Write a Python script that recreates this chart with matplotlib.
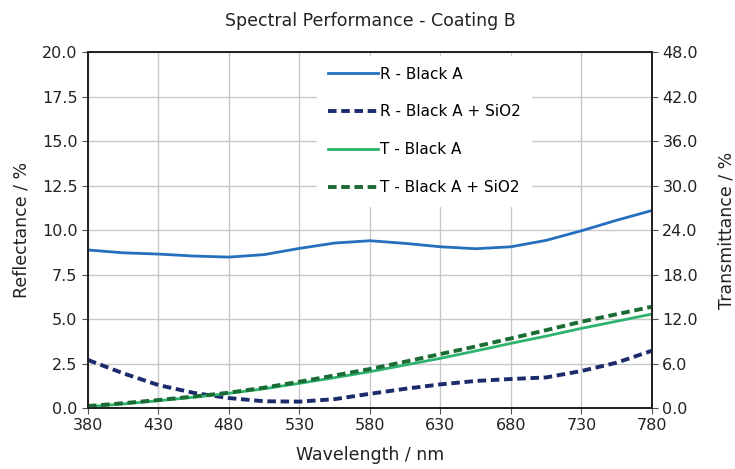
import matplotlib
matplotlib.use("Agg")
import matplotlib.pyplot as plt

# wavelength grid (nm)
wavelength = [380, 405, 430, 455, 480, 505, 530, 555, 580, 605, 630, 655, 680, 705, 730, 755, 780]

# reflectance (%), left axis
r_black_a = [8.88, 8.72, 8.65, 8.54, 8.48, 8.62, 8.97, 9.27, 9.40, 9.25, 9.06, 8.95, 9.06, 9.42, 9.96, 10.55, 11.1]
r_black_a_sio2 = [2.70, 1.95, 1.29, 0.85, 0.56, 0.38, 0.36, 0.50, 0.80, 1.08, 1.33, 1.52, 1.63, 1.72, 2.08, 2.55, 3.22]

# transmittance (%), right axis
t_black_a = [0.18, 0.55, 0.99, 1.45, 1.98, 2.6, 3.33, 4.1, 4.9, 5.8, 6.7, 7.7, 8.72, 9.7, 10.74, 11.7, 12.67]
t_black_a_sio2 = [0.27, 0.65, 1.08, 1.55, 2.07, 2.75, 3.55, 4.4, 5.26, 6.25, 7.28, 8.3, 9.39, 10.5, 11.64, 12.65, 13.66]

x_ticks = [380, 430, 480, 530, 580, 630, 680, 730, 780]
r_ticks = [0.0, 2.5, 5.0, 7.5, 10.0, 12.5, 15.0, 17.5, 20.0]
t_ticks = [0.0, 6.0, 12.0, 18.0, 24.0, 30.0, 36.0, 42.0, 48.0]

plt.rcParams['font.family'] = ['DejaVu Sans']

fig = plt.figure(figsize=(7.35, 4.69), dpi=100)
ax = fig.add_axes([0.1197, 0.130, 0.7673, 0.759])
ax2 = ax.twinx()

c_blue = '#2470be'
c_navy = '#1c2b6b'
c_green = '#2db36e'
c_dgreen = '#1b6b34'

l1, = ax.plot(wavelength, r_black_a, color=c_blue, lw=2.0, label='R - Black A')
l2, = ax.plot(wavelength, r_black_a_sio2, color=c_navy, lw=2.8, dashes=(2.2, 1.2), label='R - Black A + SiO2')
l3, = ax2.plot(wavelength, t_black_a, color=c_green, lw=2.0, label='T - Black A')
l4, = ax2.plot(wavelength, t_black_a_sio2, color=c_dgreen, lw=2.8, dashes=(2.2, 1.2), label='T - Black A + SiO2')

ax.set_xlim(380, 780)
ax.set_ylim(0, 20)
ax2.set_ylim(0, 48)
ax.set_xticks(x_ticks)
ax.set_yticks(r_ticks)
ax.set_yticklabels([f"{v:.1f}" for v in r_ticks])
ax2.set_yticks(t_ticks)
ax2.set_yticklabels([f"{v:.1f}" for v in t_ticks])

ax.grid(True, color='#c8c8c8', lw=1.0)
ax.set_axisbelow(True)

for a in (ax, ax2):
    for s in a.spines.values():
        s.set_color('#222222')
        s.set_linewidth(1.3)
    a.tick_params(labelsize=11.5, length=4, color='#555555', labelcolor='#222222')

ax.set_xlabel('Wavelength / nm', fontsize=12.5, color='#222222', labelpad=9)
ax.set_ylabel('Reflectance / %', fontsize=12.5, color='#222222', labelpad=8)
ax2.set_ylabel('Transmittance / %', fontsize=12.5, color='#222222', labelpad=14)
ax.set_title('Spectral Performance - Coating B', fontsize=12.5, color='#222222', pad=19)

leg = ax2.legend(handles=[l1, l2, l3, l4], loc='upper left', bbox_to_anchor=(0.40, 1.0),
                 frameon=True, fontsize=11, labelspacing=1.5, handlelength=3.3,
                 handletextpad=0.1, borderpad=0.7, borderaxespad=0.25)
leg.get_frame().set_edgecolor('white')
leg.get_frame().set_facecolor('white')
leg.get_frame().set_alpha(1.0)

fig.savefig('out.png', dpi=100)
